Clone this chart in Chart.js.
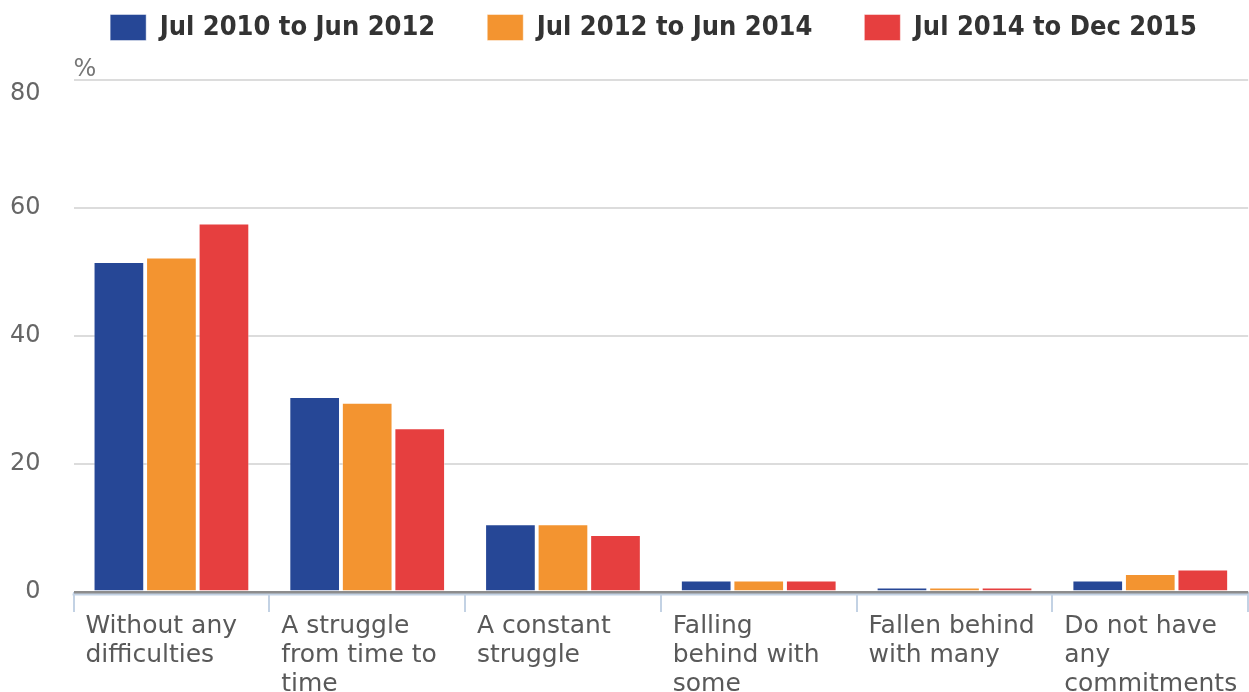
<!DOCTYPE html>
<html>
<head>
<meta charset="utf-8">
<script src="https://cdn.jsdelivr.net/npm/chart.js@4.4.1/dist/chart.umd.min.js"></script>
<style>
  html, body { margin: 0; padding: 0; background: #ffffff; overflow: hidden; }
  #wrap { position: relative; width: 1330px; height: 699px; }
</style>
</head>
<body>
<div id="wrap"><canvas id="chart"></canvas></div>
<script>
// Ability to keep up with bills and credit commitments, by period
const categories = [
  ['Without any', 'difficulties'],
  ['A struggle', 'from time to', 'time'],
  ['A constant', 'struggle'],
  ['Falling', 'behind with', 'some'],
  ['Fallen behind', 'with many'],
  ['Do not have', 'any', 'commitments']
];
const seriesNames = ['Jul 2010 to Jun 2012', 'Jul 2012 to Jun 2014', 'Jul 2014 to Dec 2015'];
const jul2010toJun2012 = [51.6, 30.5, 10.6, 1.8, 0.7, 1.8];
const jul2012toJun2014 = [52.3, 29.6, 10.6, 1.8, 0.7, 2.8];
const jul2014toDec2015 = [57.6, 25.6, 8.9, 1.8, 0.7, 3.5];
const yTicks = [0, 20, 40, 60, 80];
const unitLabel = '%';
const seriesColors = ['#264796', '#f39430', '#e63f3f'];

const FONT = "'DejaVu Sans', Verdana, sans-serif";
const FONT_LEGEND = "'DejaVu Sans Condensed', 'DejaVu Sans', sans-serif";

// light blue axis line sitting just under the zero line
const axisBaseline = {
  id: 'axisBaseline',
  beforeDatasetsDraw(chart) {
    const { ctx, chartArea } = chart;
    ctx.save();
    ctx.strokeStyle = '#c3d2e4';
    ctx.lineWidth = 2;
    ctx.beginPath();
    ctx.moveTo(chartArea.left - 1, chartArea.bottom + 2.5);
    ctx.lineTo(chartArea.right, chartArea.bottom + 2.5);
    ctx.stroke();
    ctx.restore();
  }
};

const series = [jul2010toJun2012, jul2012toJun2014, jul2014toDec2015];
const yMax = yTicks[yTicks.length - 1];

new Chart(document.getElementById('chart'), {
  type: 'bar',
  data: {
    labels: categories,
    datasets: series.map((values, i) => ({
      label: seriesNames[i],
      data: values,
      backgroundColor: seriesColors[i],
      borderColor: 'rgba(255,255,255,0.45)',
      borderWidth: 1,
      categoryPercentage: 0.805,
      barPercentage: 0.965
    }))
  },
  options: {
    responsive: true,
    maintainAspectRatio: false,
    animation: false,
    layout: { padding: { top: -38, left: -23, right: 0, bottom: 0 } },
    plugins: {
      legend: {
        position: 'top',
        fullSize: true,
        labels: {
          boxWidth: 36,
          boxHeight: 26,
          padding: 52,
          color: '#333333',
          font: { family: FONT_LEGEND, size: 27, weight: 'bold' }
        }
      },
      subtitle: {
        display: true,
        text: unitLabel,
        align: 'start',
        position: 'top',
        fullSize: false,
        weight: 500,
        color: '#777777',
        font: { family: FONT, size: 24, weight: 'normal', lineHeight: 0.8 },
        padding: { top: 9, bottom: 1 }
      },
      tooltip: { enabled: false }
    },
    scales: {
      x: {
        offset: true,
        border: { display: false },
        grid: {
          offset: true,
          drawOnChartArea: false,
          drawTicks: true,
          tickLength: 20,
          color: '#c3d2e4',
          lineWidth: 2
        },
        ticks: {
          align: 'start',
          labelOffset: -86,
          padding: 0,
          color: '#595959',
          autoSkip: false,
          maxRotation: 0,
          font: { family: FONT, size: 25, lineHeight: 1.16 }
        }
      },
      y: {
        min: yTicks[0],
        max: yMax,
        border: { display: false },
        grid: {
          drawTicks: false,
          color: (c) => (c.tick && c.tick.value === 0 ? '#8d8d8d' : '#dcdcdc'),
          lineWidth: (c) => (c.tick && c.tick.value === 0 ? 3 : 2)
        },
        afterBuildTicks: (scale) => { scale.ticks = yTicks.map((v) => ({ value: v })); },
        ticks: {
          padding: 33,
          color: '#666666',
          // the top label sits just below its grid line
          callback: (v) => (v === yMax ? ['', String(v)] : String(v)),
          font: { family: FONT, size: 24, lineHeight: 1.1 }
        }
      }
    }
  },
  plugins: [axisBaseline]
});
</script>
</body>
</html>
